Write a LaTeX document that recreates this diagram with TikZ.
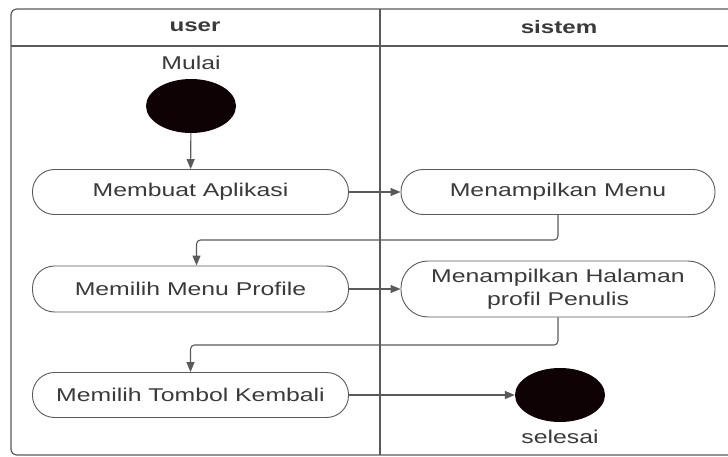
\documentclass[tikz,border=0pt]{standalone}
\usepackage{fontspec}
\setmainfont{Liberation Sans}[FakeStretch=1.34]
\usetikzlibrary{arrows.meta,calc,shapes.geometric}
\definecolor{ink}{HTML}{3A3A3A}
\definecolor{rule}{HTML}{5A5A5A}
\definecolor{dot}{HTML}{0E0204}
\begin{document}
\begin{tikzpicture}[x=1pt,y=-1pt,
  lane/.style={draw=rule,line width=1.2pt},
  action/.style={draw=rule,line width=0.9pt,fill=white,rounded corners=#1,
    minimum width=316pt,align=center,text=ink,font=\fontsize{18.5}{23}\selectfont,inner sep=0pt},
  action/.default=22pt,
  bullet/.style={ellipse,fill=dot,minimum width=90pt,minimum height=54pt,inner sep=0pt},
  caption/.style={text=ink,font=\fontsize{18.5}{22}\selectfont,inner sep=0pt},
  head/.style={text=ink,font=\fontsize{18}{22}\selectfont\bfseries,inner sep=0pt},
  flow/.style={draw=rule,line width=1.1pt,-{Triangle[length=10pt,width=8pt]}},
]
\useasboundingbox (0,0) rectangle (728,457);
\clip (0,0) rectangle (728,457);

% swimlane frame (its right side runs past the edge), header row and lane divider
\draw[lane,rounded corners=6pt] (11,9) rectangle (740,455);
\draw[lane] (11,46) -- (740,46);
\draw[lane] (380,9) -- (380,455);
\node[head] (huser) at (195,27) {user};
\node[head] (hsys) at (559,27) {sistem};

% start and end markers
\node[caption] (mulai) at (191,63) {Mulai};
\node[bullet] (start) at (191,106) {};
\node[bullet] (stop) at (560,395) {};
\node[caption] (selesai) at (560,437) {selesai};

% actions
\node[action,minimum height=45pt] (buat) at (190.5,192) {Membuat Aplikasi};
\node[action,minimum height=45pt,minimum width=314pt] (menu) at (558,192) {Menampilkan Menu};
\node[action,minimum height=46pt] (profil) at (190.5,289) {Memilih Menu Profile};
\node[action=27pt,minimum height=56pt,minimum width=314pt] (halaman) at (558,289) {Menampilkan Halaman\\profil Penulis};
\node[action,minimum height=45pt] (kembali) at (190.5,395) {Memilih Tombol Kembali};

% control flow
\draw[flow] (start) -- (buat);
\draw[flow] (buat) -- (menu);
\draw[flow,rounded corners=4pt] (menu.south) |- ([xshift=6pt]profil.north |- 0,240) -- ([xshift=6pt]profil.north);
\draw[flow] (profil) -- (halaman);
\draw[flow,rounded corners=4pt] (halaman.south) |- (kembali.north |- 0,345) -- (kembali.north);
\draw[flow] (kembali) -- (stop);
\end{tikzpicture}
\end{document}
